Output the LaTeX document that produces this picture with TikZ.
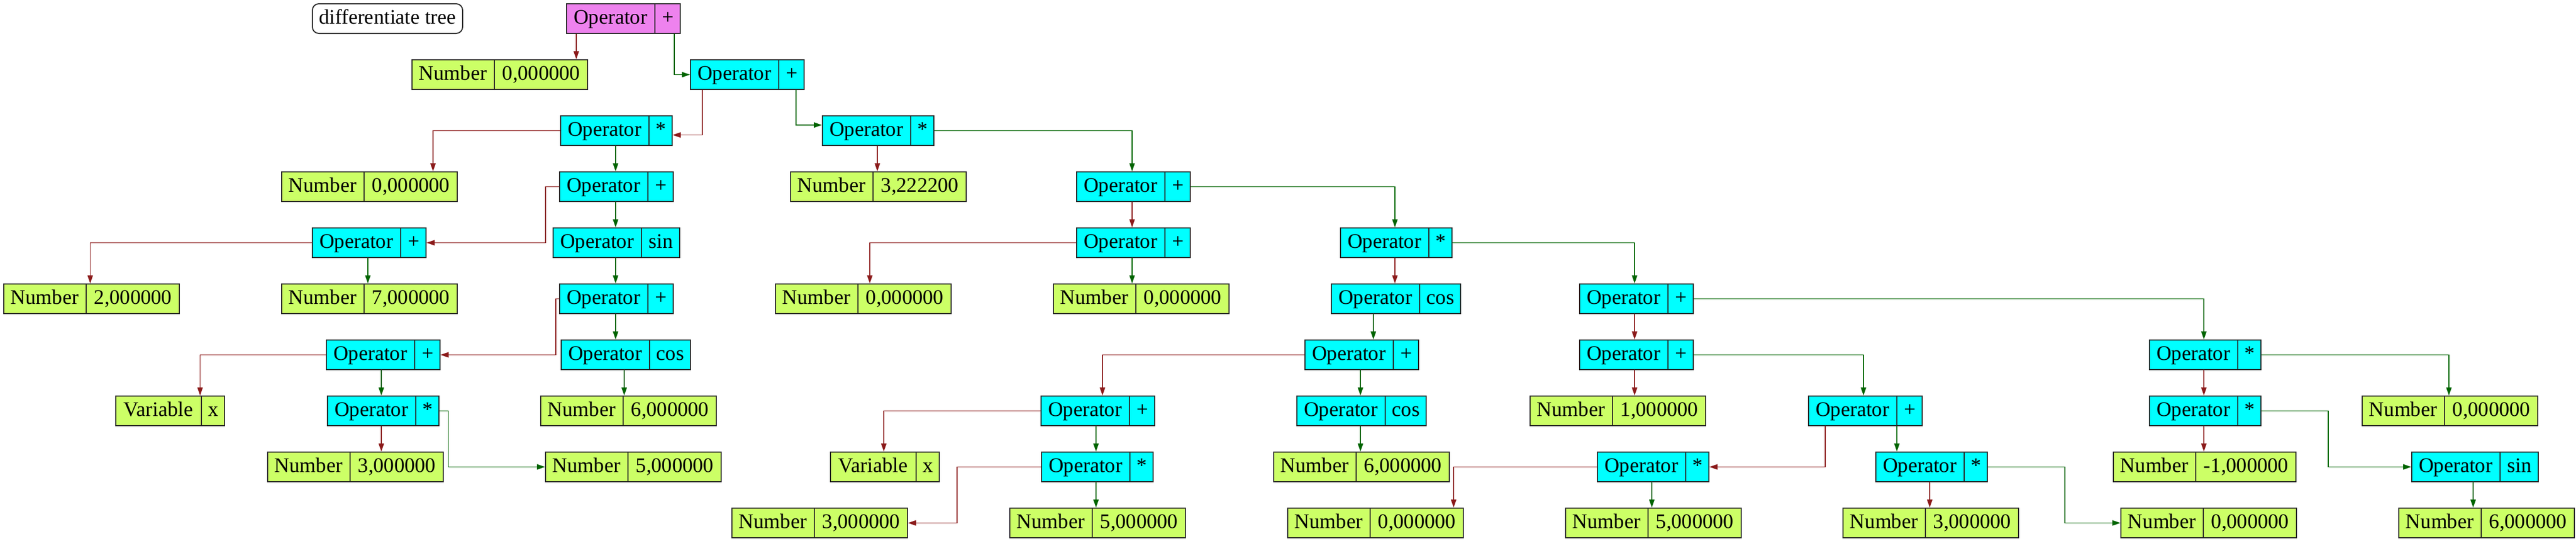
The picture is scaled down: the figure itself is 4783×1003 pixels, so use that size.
\documentclass[tikz,border=0pt]{standalone}
\usepackage{fontspec}
\setmainfont{Liberation Serif}
\usetikzlibrary{shapes.multipart,arrows.meta}
\definecolor{opviolet}{RGB}{238,130,238}
\definecolor{opcyan}{RGB}{0,255,255}
\definecolor{numgreen}{RGB}{204,255,102}
\definecolor{edgered}{RGB}{139,26,26}
\definecolor{edgegreen}{RGB}{0,100,0}
\definecolor{bordergray}{RGB}{40,40,40}
\newdimen\pxu \pxu=0.5pt
\newcommand\fld[2]{\makebox[#1\pxu]{\rule[-9pt]{0pt}{27.5pt}#2}}
\newcommand\OpNode[5]{\node[opn] (#1) at (#2,#3) {\fld{163}{Operator}\nodepart{two}\fld{#4}{#5}};}
\newcommand\NumNode[4]{\node[numn] (#1) at (#2,#3) {\fld{152}{Number}\nodepart{two}\fld{172}{#4}};}
\newcommand\VarNode[3]{\node[numn] (#1) at (#2,#3) {\fld{158}{Variable}\nodepart{two}\fld{42}{x}};}
\begin{document}
\begin{tikzpicture}[x=0.5pt,y=-0.5pt,
  rec/.style={rectangle split, rectangle split parts=2, rectangle split horizontal,
    draw=bordergray, line width=1pt, inner xsep=0pt, inner ysep=0pt, anchor=north west,
    font=\fontsize{19.25pt}{20pt}\selectfont},
  opn/.style={rec, fill=opcyan},
  numn/.style={rec, fill=numgreen},
  titlebox/.style={draw=bordergray, line width=1pt, fill=white, rounded corners=6pt,
    inner sep=0pt, anchor=north west, font=\fontsize{19.25pt}{20pt}\selectfont},
  redE/.style={draw=edgered, line width=0.75pt, -{Triangle[length=7.5pt,width=5pt]}},
  greenE/.style={draw=edgegreen, line width=0.75pt, -{Triangle[length=7.5pt,width=5pt]}}]
\useasboundingbox (0,0) rectangle (4783,1003);

% row 0
\node[titlebox] (title) at (579,6) {\fld{279}{differentiate tree}};
\node[opn, fill=opviolet] (root) at (1051,6) {\fld{163}{Operator}\nodepart{two}\fld{46}{+}};
% row 1
\NumNode{n1}{764}{110}{0,000000}
\OpNode{A}{1281}{110}{46}{+}
% row 2
\OpNode{B}{1040}{214}{42}{*}
\OpNode{J}{1526}{214}{42}{*}
% row 3
\NumNode{nB0}{522}{318}{0,000000}
\OpNode{C}{1038}{318}{46}{+}
\NumNode{nJ}{1467}{318}{3,222200}
\OpNode{K}{1998}{318}{46}{+}
% row 4
\OpNode{D}{579}{422}{46}{+}
\OpNode{E}{1026}{422}{70}{sin}
\OpNode{L}{1998}{422}{46}{+}
\OpNode{M}{2488}{422}{42}{*}
% row 5
\NumNode{nD2}{6}{526}{2,000000}
\NumNode{nD7}{522}{526}{7,000000}
\OpNode{F}{1038}{526}{46}{+}
\NumNode{nL0a}{1439}{526}{0,000000}
\NumNode{nL0b}{1955}{526}{0,000000}
\OpNode{N}{2471}{526}{75}{cos}
\OpNode{S}{2932}{526}{46}{+}
% row 6
\OpNode{G}{605}{630}{46}{+}
\OpNode{I}{1041}{630}{75}{cos}
\OpNode{O}{2422}{630}{46}{+}
\OpNode{T}{2932}{630}{46}{+}
\OpNode{X}{3990}{630}{42}{*}
% row 7
\VarNode{vG}{214}{734}
\OpNode{H}{607}{734}{42}{*}
\NumNode{nI6}{1003}{734}{6,000000}
\OpNode{P}{1932}{734}{46}{+}
\OpNode{R}{2407}{734}{75}{cos}
\NumNode{nT1}{2840}{734}{1,000000}
\OpNode{U}{3357}{734}{46}{+}
\OpNode{Y}{3990}{734}{42}{*}
\NumNode{nX0}{4385}{734}{0,000000}
% row 8
\NumNode{nH3}{496}{838}{3,000000}
\NumNode{nH5}{1012}{838}{5,000000}
\VarNode{vP}{1541}{838}
\OpNode{Q}{1933}{838}{42}{*}
\NumNode{nR6}{2364}{838}{6,000000}
\OpNode{V}{2965}{838}{42}{*}
\OpNode{W}{3482}{838}{42}{*}
\node[numn] (nY1) at (3923,838) {\fld{152}{Number}\nodepart{two}\fld{185}{-1,000000}};
\OpNode{Z}{4477}{838}{70}{sin}
% row 9
\NumNode{nQ3}{1358}{942}{3,000000}
\NumNode{nQ5}{1874}{942}{5,000000}
\NumNode{nV0}{2390}{942}{0,000000}
\NumNode{nV5}{2906}{942}{5,000000}
\NumNode{nW3}{3421}{942}{3,000000}
\NumNode{nW0}{3937}{942}{0,000000}
\NumNode{nZ6}{4453}{942}{6,000000}

% edges
\draw[redE] (root.south -| 1070,0) -- (n1.north -| 1070,0);
\draw[greenE] (root.south -| 1252,0) |- (A.west);
\draw[redE] (A.south -| 1304,0) |- (B.east |- 0,250.5);
\draw[greenE] (A.south -| 1478,0) |- (J.west |- 0,232);
\draw[redE] (B.west) -| (nB0.north -| 804,0);
\draw[greenE] (B.south -| 1143,0) -- (C.north -| 1143,0);
\draw[redE] (C.west) -| (D.east -| 1013,0) -- (D.east);
\draw[greenE] (C.south -| 1143,0) -- (E.north -| 1143,0);
\draw[redE] (D.west) -| (nD2.north -| 167.5,0);
\draw[greenE] (D.south -| 683,0) -- (nD7.north -| 683,0);
\draw[greenE] (E.south -| 1143,0) -- (F.north -| 1143,0);
\draw[redE] (F.west) -| (G.east -| 1032,0) -- (G.east);
\draw[greenE] (F.south -| 1143,0) -- (I.north -| 1143,0);
\draw[redE] (G.west) -| (vG.north -| 371.5,0);
\draw[greenE] (G.south -| 708,0) -- (H.north -| 708,0);
\draw[redE] (H.south -| 708,0) -- (nH3.north -| 708,0);
\draw[greenE] (H.east) -| (nH5.west -| 832.5,0) -- (nH5.west);
\draw[greenE] (I.south -| 1159,0) -- (nI6.north -| 1159,0);
\draw[redE] (J.south -| 1629,0) -- (nJ.north -| 1629,0);
\draw[greenE] (J.east) -| (K.north -| 2102,0);
\draw[redE] (K.south -| 2102,0) -- (L.north -| 2102,0);
\draw[greenE] (K.east) -| (M.north -| 2590,0);
\draw[redE] (L.west) -| (nL0a.north -| 1615,0);
\draw[greenE] (L.south -| 2102,0) -- (nL0b.north -| 2102,0);
\draw[redE] (M.south -| 2590,0) -- (N.north -| 2590,0);
\draw[greenE] (M.east) -| (S.north -| 3035,0);
\draw[greenE] (N.south -| 2550,0) -- (O.north -| 2550,0);
\draw[redE] (O.west) -| (P.north -| 2047,0);
\draw[greenE] (O.south -| 2526,0) -- (R.north -| 2526,0);
\draw[redE] (P.west) -| (vP.north -| 1641,0);
\draw[greenE] (P.south -| 2035,0) -- (Q.north -| 2035,0);
\draw[redE] (Q.west) -| (nQ3.east -| 1777,0) -- (nQ3.east);
\draw[greenE] (Q.south -| 2035,0) -- (nQ5.north -| 2035,0);
\draw[greenE] (R.south -| 2526,0) -- (nR6.north -| 2526,0);
\draw[redE] (S.south -| 3035,0) -- (T.north -| 3035,0);
\draw[greenE] (S.east) -| (X.north -| 4092,0);
\draw[redE] (T.south -| 3035,0) -- (nT1.north -| 3035,0);
\draw[greenE] (T.east) -| (U.north -| 3460,0);
\draw[redE] (U.south -| 3389,0) |- (V.east);
\draw[greenE] (U.south -| 3522,0) -- (W.north -| 3522,0);
\draw[redE] (V.west) -| (nV0.north -| 2699,0);
\draw[greenE] (V.south -| 3067,0) -- (nV5.north -| 3067,0);
\draw[redE] (W.south -| 3583,0) -- (nW3.north -| 3583,0);
\draw[greenE] (W.east) -| (nW0.west -| 3834,0) -- (nW0.west);
\draw[redE] (X.south -| 4092,0) -- (Y.north -| 4092,0);
\draw[greenE] (X.east) -| (nX0.north -| 4547,0);
\draw[redE] (Y.south -| 4092,0) -- (nY1.north -| 4092,0);
\draw[greenE] (Y.east) -| (Z.west -| 4323,0) -- (Z.west);
\draw[greenE] (Z.south -| 4592,0) -- (nZ6.north -| 4592,0);
\end{tikzpicture}
\end{document}
